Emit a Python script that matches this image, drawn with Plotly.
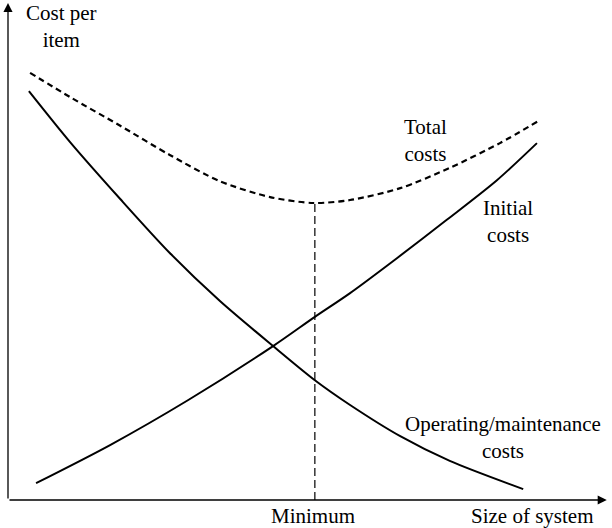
import plotly.graph_objects as go

# curves (size of system vs cost per item, arbitrary 0-100 units)
om_x = [3.5, 10.4, 18.8, 27.1, 35.5, 44.4, 51.4, 57.3, 65.7, 74.0, 86.3]
om_y = [82.6, 72.3, 60.8, 49.9, 40.2, 31.1, 24.2, 19.2, 12.9, 7.9, 2.2]

init_x = [4.7, 17.1, 30.2, 44.4, 51.4, 57.3, 65.2, 73.5, 81.9, 88.6]
init_y = [3.4, 11.1, 20.2, 31.1, 37.0, 41.8, 48.9, 56.6, 64.6, 72.1]

total_x = [3.7, 10.4, 18.8, 27.1, 35.5, 43.9, 51.1, 57.3, 65.7, 74.0, 82.4, 88.9]
total_y = [86.3, 81.4, 75.6, 69.7, 64.4, 61.2, 60.0, 60.6, 63.0, 67.1, 72.1, 76.6]

min_x = 51.4
min_y = 60.0

font = dict(family="Liberation Serif", size=21, color="black")

fig = go.Figure()

# operating / maintenance
fig.add_trace(go.Scatter(x=om_x, y=om_y, mode="lines",
                         line=dict(color="black", width=2, shape="spline", smoothing=0.8)))
# initial
fig.add_trace(go.Scatter(x=init_x, y=init_y, mode="lines",
                         line=dict(color="black", width=2, shape="spline", smoothing=0.8)))
# total (dotted)
fig.add_trace(go.Scatter(x=total_x, y=total_y, mode="lines",
                         line=dict(color="black", width=2.2, shape="spline", smoothing=0.8,
                                   dash="6px,4px")))
# minimum drop line
fig.add_trace(go.Scatter(x=[min_x, min_x], y=[0, min_y], mode="lines",
                         line=dict(color="black", width=1.2, dash="8px,4px")))

# axes drawn as arrows
arrow = dict(showarrow=True, text="", axref="x", ayref="y", ax=0, ay=0,
             arrowhead=2, arrowsize=1.4, arrowwidth=1.3, arrowcolor="black")
fig.add_annotation(x=100.3, y=0, **arrow)
fig.add_annotation(x=0, y=100.4, **arrow)

labels = [
    (9.0, 95.6, "Cost per<br>item"),
    (70.0, 72.7, "Total<br>costs"),
    (83.8, 56.2, "Initial<br>costs"),
    (82.9, 12.7, "Operating/maintenance<br>costs"),
]
for lx, ly, txt in labels:
    fig.add_annotation(x=lx, y=ly, text=txt, showarrow=False, font=font,
                       xanchor="center", yanchor="middle")

# labels under the x axis (outside the y range, so shift them down from y=0)
for lx, txt in [(51.1, "Minimum"), (87.8, "Size of system")]:
    fig.add_annotation(x=lx, y=0, text=txt, showarrow=False, font=font,
                       xanchor="center", yanchor="middle", yshift=-16)

fig.update_layout(
    width=612, height=528,
    margin=dict(l=8, r=7, t=5, b=28),
    plot_bgcolor="white", paper_bgcolor="white",
    showlegend=False,
    xaxis=dict(range=[0, 100], visible=False),
    yaxis=dict(range=[0, 100], visible=False),
)

fig.write_html("out.html", config={"displayModeBar": False},
               post_script="document.body.style.margin='0';")
